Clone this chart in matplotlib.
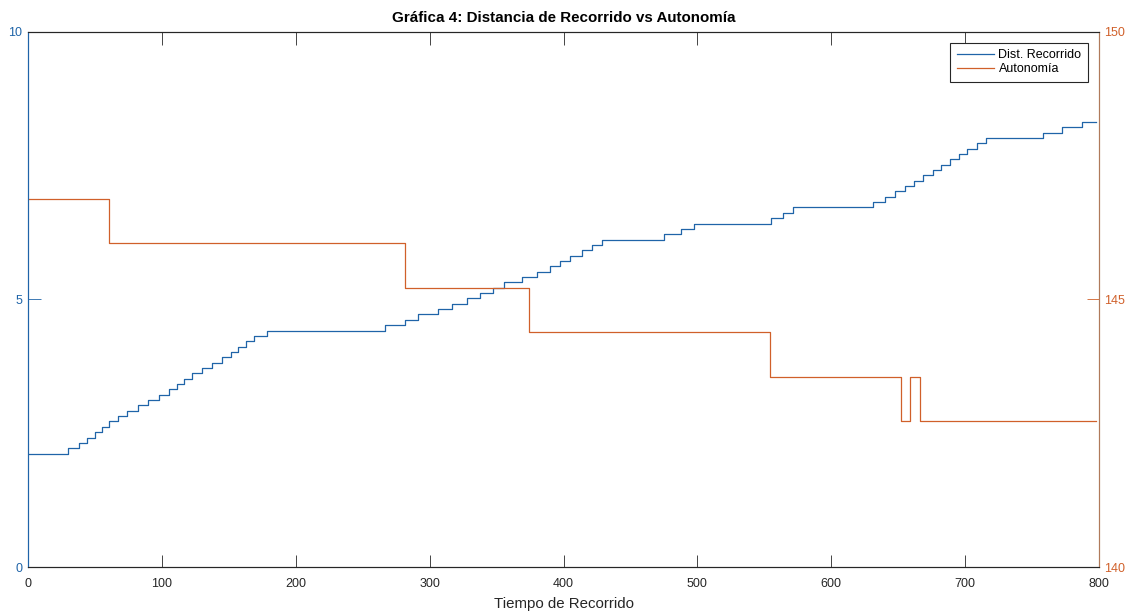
import matplotlib.pyplot as plt

# distancia recorrida (km) vs tiempo, escalones de 0.1
dist_t = [0,
          30.1, 38.1, 43.8, 50.0, 55.0, 60.7, 67.4, 73.7, 81.9, 89.9, 97.8, 105.3,
          111.0, 116.7, 122.7, 129.7, 137.2, 144.6, 151.6, 157.1, 162.8, 169.0, 178.7,
          266.6, 281.6, 291.5, 306.4, 316.4, 327.6, 337.6, 347.0, 355.5, 368.7, 379.9,
          389.8, 397.3, 404.8, 413.5, 421.0, 428.9,
          475.2, 487.7, 497.6,
          554.9, 564.1, 571.6,
          631.3, 640.0, 647.5, 655.0, 661.7, 668.7, 675.7, 681.9, 688.6, 695.4, 701.6,
          708.5, 715.5,
          758.3, 772.5, 787.4,
          797.6]
dist_v = [2.12,
          2.22, 2.32, 2.42, 2.52, 2.62, 2.72, 2.82, 2.92, 3.02, 3.12, 3.22, 3.32,
          3.42, 3.52, 3.62, 3.72, 3.82, 3.92, 4.02, 4.12, 4.22, 4.32, 4.42,
          4.52, 4.62, 4.72, 4.82, 4.92, 5.02, 5.12, 5.22, 5.32, 5.42, 5.52,
          5.62, 5.72, 5.82, 5.92, 6.02, 6.12,
          6.22, 6.32, 6.42,
          6.52, 6.62, 6.72,
          6.82, 6.92, 7.02, 7.12, 7.22, 7.32, 7.42, 7.52, 7.62, 7.72, 7.82,
          7.92, 8.02,
          8.12, 8.22, 8.32,
          8.32]

# autonomia restante
auto_t = [0, 60.5, 281.6, 374.0, 554.0, 652.0, 658.7, 666.0, 797.6]
auto_v = [146.88, 146.05, 145.22, 144.39, 143.56, 142.73, 143.56, 142.73, 142.73]

blue = '#1f64a8'
orange = '#d0602a'
dark = '#262626'

plt.rcParams['font.family'] = ['Liberation Sans', 'DejaVu Sans']

fig = plt.figure(figsize=(11.39, 6.16), dpi=100)
ax = fig.add_axes([28/1139, 1 - 567/616, (1099 - 28)/1139, (567 - 32)/616])
ax2 = ax.twinx()

l1, = ax.step(dist_t, dist_v, where='post', color=blue, lw=0.9, label='Dist. Recorrido')
l2, = ax2.step(auto_t, auto_v, where='post', color=orange, lw=0.9, label='Autonomía')

ax.set_xlim(0, 800)
ax.set_ylim(0, 10)
ax2.set_ylim(140, 150)
ax.set_xticks(range(0, 801, 100))
ax.set_yticks([0, 5, 10])
ax2.set_yticks([140, 145, 150])

ax.tick_params(axis='x', direction='in', top=True, length=9, width=0.6,
               colors=dark, labelsize=9, pad=8)
ax.tick_params(axis='y', direction='in', length=9, width=0.6,
               colors=blue, labelsize=9, pad=4)
ax2.tick_params(axis='y', direction='in', length=9, width=0.6,
                colors=orange, labelsize=9, pad=4)

for a in (ax, ax2):
    a.spines['top'].set_color(dark)
    a.spines['bottom'].set_color(dark)
    a.spines['left'].set_color(blue)
    a.spines['right'].set_color('#b07a5a')
    for s in a.spines.values():
        s.set_linewidth(0.8)

ax.set_title('Gráfica 4: Distancia de Recorrido vs Autonomía',
             fontsize=10.9, fontweight='bold', pad=7, color='black')
ax.set_xlabel('Tiempo de Recorrido', fontsize=10.8, color=dark, labelpad=5)

leg = ax2.legend([l1, l2], ['Dist. Recorrido', 'Autonomía'], loc='upper right',
                 fontsize=9, frameon=True, fancybox=False, framealpha=1,
                 edgecolor=dark, handlelength=3.0, handletextpad=0.35,
                 borderaxespad=0.9, labelspacing=0.15, borderpad=0.5)
leg.get_frame().set_linewidth(0.8)

fig.savefig('out.png', dpi=100)
